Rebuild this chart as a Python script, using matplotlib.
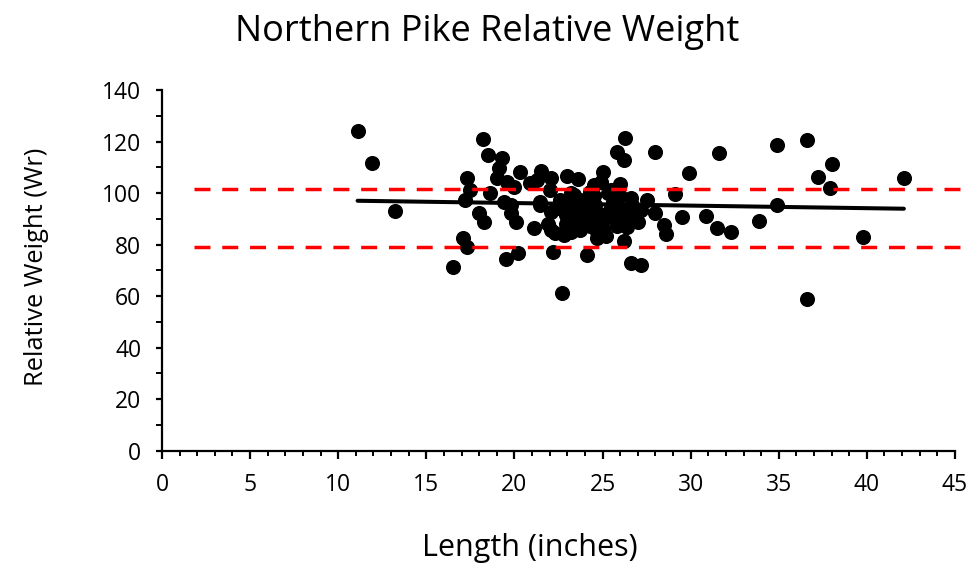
import numpy as np
import matplotlib.pyplot as plt
from matplotlib.ticker import MultipleLocator

plt.rcParams['font.family'] = ['Open Sans', 'DejaVu Sans']

# length (inches) and relative weight (Wr)
length = [11.1, 11.9, 13.2, 16.5, 17.1, 17.3, 17.3, 17.5, 17.2, 18.0,
          18.3, 18.2, 18.5, 19.3, 19.1, 20.3, 19.0, 19.6, 20.0, 18.6,
          19.4, 19.8, 19.8, 20.1, 19.5, 20.2, 20.9, 21.1, 21.5, 21.3,
          22.1, 22.0, 23.0, 23.6, 25.0, 24.5, 24.9, 26.0, 23.2, 24.3,
          25.3, 22.2, 24.1, 22.7, 26.6, 27.2, 26.2, 22.3, 22.8, 23.7,
          24.7, 26.4, 26.3, 25.8, 26.2, 28.0, 29.9, 27.5, 29.1, 28.0,
          29.5, 28.5, 28.6, 30.9, 31.5, 32.3, 33.9, 31.6, 34.9, 36.6,
          38.0, 37.2, 37.9, 42.1, 34.9, 39.8, 36.6,
          21.45, 22.1, 22.9, 23.4, 24.0, 24.6, 24.9, 25.4, 25.8, 26.3,
          26.7, 25.2, 24.3, 23.2, 22.6, 23.7, 26.0, 27.0, 27.2, 21.9,
          25.5, 23.4, 24.5, 22.1, 24.7, 21.45, 26.6, 26.6,
          22.5, 23.0, 23.5, 24.2, 24.8, 25.6, 26.0, 25.0, 23.8, 22.9,
          26.8, 25.9, 24.4, 23.1, 25.3]
weight = [124.1, 111.7, 93.2, 71.4, 82.4, 79.1, 105.9, 101.2, 97.3, 92.1,
          88.9, 121.0, 114.8, 113.7, 109.6, 108.2, 105.7, 104.4, 102.4, 99.9,
          96.6, 95.3, 92.1, 88.9, 74.4, 76.6, 103.8, 86.3, 108.7, 105.0,
          105.7, 101.2, 106.6, 105.4, 108.2, 103.1, 104.4, 103.5, 99.9, 100.5,
          99.9, 77.1, 76.0, 61.0, 72.7, 72.0, 81.3, 84.3, 83.7, 85.6,
          85.0, 86.9, 121.3, 116.0, 112.8, 116.0, 107.8, 97.4, 99.7, 92.1,
          90.5, 87.6, 84.0, 91.0, 86.3, 84.7, 89.1, 115.7, 118.5, 120.6,
          111.3, 106.3, 102.1, 105.9, 95.3, 83.0, 58.8,
          95.3, 92.6, 91.5, 88.7, 92.6, 95.3, 89.5, 93.4, 87.2, 91.5,
          95.3, 83.3, 87.2, 84.9, 97.3, 97.3, 98.8, 88.7, 93.4, 88.0,
          101.2, 99.2, 98.8, 85.6, 82.4, 96.6, 98.0, 94.0,
          94.0, 96.0, 93.0, 96.5, 92.0, 96.5, 89.5, 86.0, 90.5, 88.0,
          91.0, 93.5, 89.0, 93.8, 90.8]

# linear trendline as shown on the chart (Wr = a + b * length)
trend_intercept = 98.1
trend_slope = -0.0997

# reference lines (dashed red)
ref_levels = [101.5, 79.0]
ref_span = [1.8, 45.6]

x = np.array(length)
y = np.array(weight)

fig = plt.figure(figsize=(9.7, 5.64), dpi=100)
ax = fig.add_axes([0.167, 0.2012, 0.8175, 0.6392])

ax.scatter(x, y, s=118, color='black', linewidths=0, zorder=3)

tx = np.array([x.min(), x.max()])
ax.plot(tx, trend_intercept + trend_slope * tx, color='black', lw=2.9,
        solid_capstyle='round', zorder=4)

for lvl in ref_levels:
    ax.plot(ref_span, [lvl, lvl], color='#ff0000', lw=2.5,
            dashes=(4.6, 3.4), dash_capstyle='butt', zorder=5, clip_on=False)

ax.set_xlim(0, 45)
ax.set_ylim(0, 140)
ax.xaxis.set_major_locator(MultipleLocator(5))
ax.xaxis.set_minor_locator(MultipleLocator(1))
ax.yaxis.set_major_locator(MultipleLocator(20))
ax.yaxis.set_minor_locator(MultipleLocator(10))

for side in ['top', 'right']:
    ax.spines[side].set_visible(False)
for side in ['left', 'bottom']:
    ax.spines[side].set_linewidth(1.6)

ax.tick_params(axis='both', which='major', direction='out', length=5.5,
               width=1.6, labelsize=16.5)
ax.tick_params(axis='both', which='minor', direction='out', length=3.5,
               width=1.4)
ax.tick_params(axis='y', which='both', length=4, pad=11)
ax.tick_params(axis='x', which='major', pad=11)

fig.suptitle('Northern Pike Relative Weight', fontsize=26, x=0.502,
             y=0.943, va='center')
ax.set_xlabel('Length (inches)', fontsize=22)
ax.xaxis.set_label_coords(0.464, -0.228)
ax.set_ylabel('Relative Weight (Wr)', fontsize=18.4)
ax.yaxis.set_label_coords(-0.142, 0.509)

fig.savefig('out.png', dpi=100)
